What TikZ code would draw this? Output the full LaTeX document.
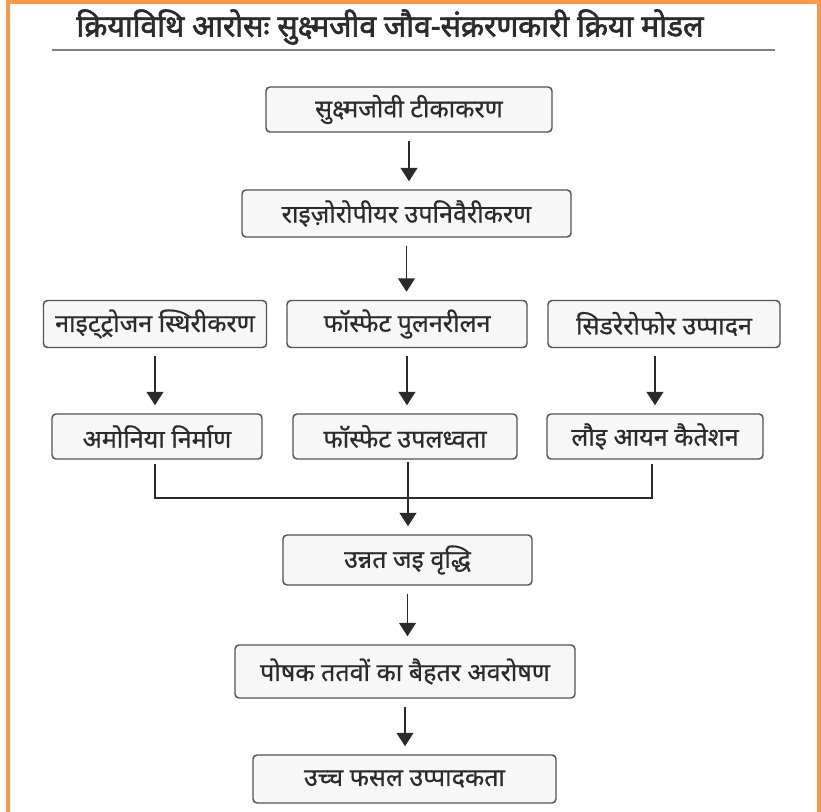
\documentclass[tikz,border=0pt]{standalone}
\usepackage{fontspec}
\setmainfont[Script=Devanagari]{Noto Sans}
\newfontfamily\boxfont[Script=Devanagari,FakeBold=0.6]{Noto Sans}
\newfontfamily\titlefont[Script=Devanagari,FakeBold=2]{Noto Sans}
\usepackage{tikz}
\usetikzlibrary{arrows.meta,positioning,calc}
\definecolor{frame}{HTML}{F7994A}
\definecolor{rule}{gray}{0.5}
\definecolor{boxline}{gray}{0.33}
\definecolor{boxfill}{gray}{0.97}
\definecolor{ink}{gray}{0.17}

\tikzset{
  procbox/.style={draw=boxline,fill=boxfill,line width=1.1pt,rounded corners=3pt,
    text=ink,font=\boxfont\fontsize{18.8}{22}\selectfont,inner sep=0pt,anchor=center},
  boxsize/.style 2 args={minimum width=#1*0.75pt,minimum height=#2*0.75pt},
  flowarrow/.style={draw=ink,line width=1.3pt,-{Triangle[width=12.5pt,length=10pt]},
    shorten <=6pt,shorten >=6pt},
  joinline/.style={draw=ink,line width=1.3pt}
}

\begin{document}
\begin{tikzpicture}[x=0.75pt,y=-0.75pt]
\useasboundingbox (0,0) rectangle (821,812);
\fill[white] (0,0) rectangle (821,812);
\draw[frame,line width=3pt] (7.5,2) -- (818.5,2);
\draw[frame,line width=3pt] (7.5,0) -- (7.5,812);
\draw[frame,line width=3pt] (818.5,0) -- (818.5,812);

% title
\node[text=ink,font=\titlefont\fontsize{22.6}{26}\selectfont,anchor=center] (title) at (390,27)
  {क्रियाविथि आरोसः सुक्ष्मजीव जौव-संक्ररणकारी क्रिया मोडल};
\draw[rule,line width=1.5pt] (52,50)--(775,50);

% main chain
\node[procbox,boxsize={286}{45}] (inoc) at (409,109.5) {सुक्ष्मजोवी टीकाकरण};
\node[procbox,boxsize={329}{47}] (colon) at (406.5,213.5) {राइज़ोरोपीयर उपनिवैरीकरण};

% three branches
\node[procbox,boxsize={223}{47}] (nfix) at (155,324) {नाइट्ट्रोजन स्थिरीकरण};
\node[procbox,boxsize={240}{47}] (psol) at (407,324) {फॉस्फेट पुलनरीलन};
\node[procbox,boxsize={232}{47}] (sidero) at (664,324) {सिडरेरोफोर उप्पादन};

\node[procbox,boxsize={210}{45}] (ammon) at (157,436.5) {अमोनिया निर्माण};
\node[procbox,boxsize={224}{45}] (pavail) at (405,436.5) {फॉस्फेट उपलध्वता};
\node[procbox,boxsize={216}{45}] (iron) at (655,436.5) {लौइ आयन कैतेशन};

% lower chain
\node[procbox,boxsize={249}{50}] (root) at (407.5,560) {उन्नत जइ वृद्धि};
\node[procbox,boxsize={340}{53}] (uptake) at (405,671.5) {पोषक ततवों का बैहतर अवरोषण};
\node[procbox,boxsize={303}{48}] (yield) at (404.5,779) {उच्च फसल उप्पादकता};

\coordinate (join) at (408,498);

\draw[flowarrow] (inoc.south) -- (inoc.south|-colon.north);
\draw[flowarrow] (colon.south) -- (colon.south|-psol.north);
\draw[flowarrow] (nfix.south) -- (nfix.south|-ammon.north);
\draw[flowarrow] (psol.south) -- (psol.south|-pavail.north);
\draw[flowarrow] (sidero.south-|655,0) -- (655,0|-iron.north);

\draw[joinline] ([yshift=-3pt]ammon.south-|155,0) -- (155,0|-join) -- (652,0|-join)
  -- ([yshift=-3pt]iron.south-|652,0);
\draw[flowarrow,shorten <=2pt] (pavail.south-|join) -- (join|-root.north);
\draw[flowarrow] (root.south) -- (root.south|-uptake.north);
\draw[flowarrow] (uptake.south) -- (uptake.south|-yield.north);
\end{tikzpicture}
\end{document}
